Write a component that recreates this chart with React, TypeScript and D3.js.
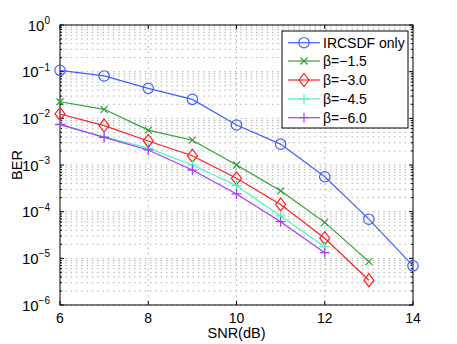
import React from "react";
import * as d3 from "d3";

const snr = [6, 7, 8, 9, 10, 11, 12, 13, 14];
const seriesNames = ["IRCSDF only", "β=−1.5", "β=−3.0", "β=−4.5", "β=−6.0"];
const ircsdf = [0.107, 0.081, 0.044, 0.0255, 0.0072, 0.0028, 5.6e-4, 6.9e-5, 6.9e-6];
const beta15 = [0.0227, 0.0156, 0.0056, 0.0034, 1.0e-3, 2.8e-4, 5.9e-5, 8.5e-6];
const beta30 = [0.0124, 0.007, 0.00327, 0.00158, 5.2e-4, 1.43e-4, 2.7e-5, 3.4e-6];
const beta45 = [0.0072, 0.004, 0.0023, 1.0e-3, 3.6e-4, 8.1e-5, 1.78e-5];
const beta60 = [0.0074, 0.0039, 0.0021, 7.8e-4, 2.4e-4, 6.1e-5, 1.32e-5];
const xTicks = [6, 8, 10, 12, 14];
const yExponents = [0, -1, -2, -3, -4, -5, -6];

const colors = ["#3f5fff", "#2ea02e", "#ff1f1f", "#4cf5c0", "#a23cff"];
const markers = ["circle", "x", "diamond", "plus", "plus"];

const W = 457, H = 344;
const m = { left: 60, right: 413, top: 25, bottom: 305 };

function Marker({ type, x, y, color }: { type: string; x: number; y: number; color: string }) {
  const p = { fill: "none", stroke: color, strokeWidth: 1.2 };
  if (type === "circle") return <circle cx={x} cy={y} r={5.2} {...p} />;
  if (type === "diamond")
    return <path d={`M${x},${y - 6.5}L${x + 5},${y}L${x},${y + 6.5}L${x - 5},${y}Z`} {...p} />;
  if (type === "x")
    return <path d={`M${x - 3.5},${y - 3.5}L${x + 3.5},${y + 3.5}M${x - 3.5},${y + 3.5}L${x + 3.5},${y - 3.5}`} {...p} />;
  return <path d={`M${x - 5},${y}L${x + 5},${y}M${x},${y - 5}L${x},${y + 5}`} {...p} />;
}

export default function App() {
  const x = d3.scaleLinear().domain([6, 14]).range([m.left, m.right]);
  const y = d3.scaleLog().domain([1e-6, 1]).range([m.bottom, m.top]);
  const data = [ircsdf, beta15, beta30, beta45, beta60];
  const line = d3.line<[number, number]>().x((d) => x(d[0])).y((d) => y(d[1]));

  const minor: number[] = [];
  for (let e = -6; e < 0; e++) for (let k = 1; k < 10; k++) minor.push(k * Math.pow(10, e));
  minor.push(1);

  const font = "'Liberation Sans', Arial, sans-serif";
  const legendRows = [42.7, 61, 80, 99, 117.7];

  return (
    <svg width={W} height={H} style={{ position: "absolute", left: 0, top: 0 }} fontFamily={font}>
      <rect width={W} height={H} fill="#fff" />
      {/* grid */}
      {minor.map((v, i) => (
        <line key={"h" + i} x1={m.left} x2={m.right} y1={y(v)} y2={y(v)} stroke="#b0b0b0" strokeWidth={1} strokeDasharray="1.5,3.8" />
      ))}
      {xTicks.slice(1, -1).map((v) => (
        <line key={"v" + v} x1={x(v)} x2={x(v)} y1={m.top} y2={m.bottom} stroke="#b0b0b0" strokeWidth={1} strokeDasharray="1.5,3.8" />
      ))}
      {/* ticks */}
      {xTicks.map((v) => (
        <g key={"xt" + v}>
          <line x1={x(v)} x2={x(v)} y1={m.bottom} y2={m.bottom - 4} stroke="#000" />
          <line x1={x(v)} x2={x(v)} y1={m.top} y2={m.top + 4} stroke="#000" />
          <text x={x(v)} y={323} fontSize={14} textAnchor="middle">{v}</text>
        </g>
      ))}
      {minor.map((v, i) => {
        const major = Math.abs(Math.log10(v) - Math.round(Math.log10(v))) < 1e-9;
        const len = major ? 4 : 2;
        return (
          <g key={"yt" + i}>
            <line x1={m.left} x2={m.left + len} y1={y(v)} y2={y(v)} stroke="#000" />
            <line x1={m.right} x2={m.right - len} y1={y(v)} y2={y(v)} stroke="#000" />
          </g>
        );
      })}
      {yExponents.map((e) => (
        <text key={"yl" + e} x={50} y={y(Math.pow(10, e)) + 5.5} fontSize={15} textAnchor="end">
          10
          <tspan fontSize={10} dy={-6.5}>{e === 0 ? "0" : "−" + -e}</tspan>
        </text>
      ))}
      <rect x={m.left} y={m.top} width={m.right - m.left} height={m.bottom - m.top} fill="none" stroke="#000" />
      {/* series */}
      {data.map((vals, i) => {
        const pts = vals.map((v, j) => [snr[j], v] as [number, number]);
        return (
          <g key={"s" + i}>
            <path d={line(pts) || ""} fill="none" stroke={colors[i]} strokeWidth={1.2} />
            {pts.map((p, j) => (
              <Marker key={j} type={markers[i]} x={x(p[0])} y={y(p[1])} color={colors[i]} />
            ))}
          </g>
        );
      })}
      {/* labels */}
      <text x={(m.left + m.right) / 2} y={338} fontSize={14.5} textAnchor="middle">SNR(dB)</text>
      <text transform={`translate(22,${(m.top + m.bottom) / 2}) rotate(-90)`} fontSize={14.5} textAnchor="middle">BER</text>
      {/* legend */}
      <rect x={282} y={31} width={126} height={97} fill="#fff" stroke="#000" />
      {seriesNames.map((n, i) => (
        <g key={"lg" + i}>
          <line x1={288} x2={320} y1={legendRows[i]} y2={legendRows[i]} stroke={colors[i]} strokeWidth={1.2} />
          <Marker type={markers[i]} x={304} y={legendRows[i]} color={colors[i]} />
          <text x={323} y={legendRows[i] + 5} fontSize={14}>{n}</text>
        </g>
      ))}
    </svg>
  );
}
